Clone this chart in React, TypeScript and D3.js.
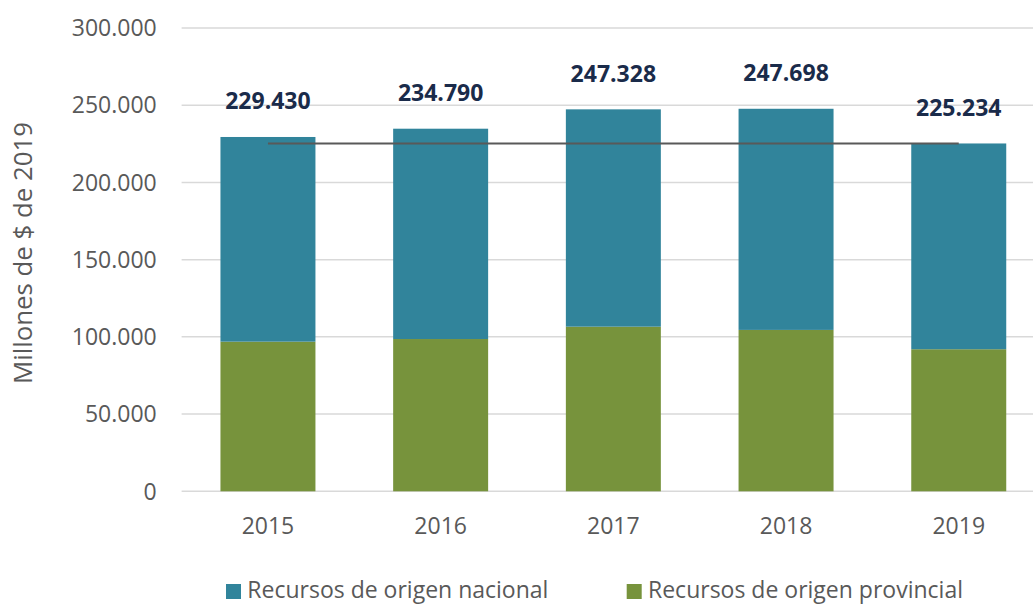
import React from "react";
import * as d3 from "d3";

const years = ["2015", "2016", "2017", "2018", "2019"];
const totals = [229430, 234790, 247328, 247698, 225234];
const provincial = [96900, 98600, 106600, 104500, 92000];
const nacional = totals.map((t, i) => t - provincial[i]);
const yTicks = [0, 50000, 100000, 150000, 200000, 250000, 300000];
const seriesNames = ["Recursos de origen nacional", "Recursos de origen provincial"];
const refValue = totals[totals.length - 1];

const W = 1033;
const H = 604;
const COLOR_NAC = "#31849B";
const COLOR_PROV = "#77933C";
const FONT = "'Open Sans', 'Noto Sans', sans-serif";

const locale = d3.formatLocale({ decimal: ",", thousands: ".", grouping: [3], currency: ["$", ""] });
const fmt = locale.format(",d");

export default function App() {
  const x = d3.scaleBand<string>().domain(years).range([181.6, 1045.1]).paddingInner(0.45).paddingOuter(0.225);
  const y = d3.scaleLinear().domain([0, 300000]).range([491.3, 28]);
  const bw = x.bandwidth();
  const cx = (yr: string) => (x(yr) as number) + bw / 2;

  return (
    <svg width={W} height={H} style={{ position: "absolute", left: 0, top: 0, background: "#fff" }} fontFamily={FONT}>
      {yTicks.map((t) => (
        <g key={t}>
          <line x1={181.6} x2={W} y1={y(t)} y2={y(t)} stroke="#D9D9D9" strokeWidth={1.5} />
          <text x={156.7} y={y(t)} dy="0.36em" textAnchor="end" fontSize={23} fill="#595959">
            {fmt(t)}
          </text>
        </g>
      ))}
      <text transform={`translate(32,253) rotate(-90)`} textAnchor="middle" fontSize={25.8} fill="#595959">
        Millones de $ de 2019
      </text>
      {years.map((yr, i) => (
        <g key={yr}>
          <rect x={x(yr)} y={y(provincial[i])} width={bw} height={y(0) - y(provincial[i])} fill={COLOR_PROV} />
          <rect x={x(yr)} y={y(totals[i])} width={bw} height={y(totals[i]) < y(provincial[i]) ? y(provincial[i]) - y(totals[i]) : 0} fill={COLOR_NAC} />
          <text x={cx(yr)} y={y(totals[i]) - 27.5} textAnchor="middle" fontSize={23} fontWeight="bold" fill="#1A2B4A">
            {fmt(totals[i])}
          </text>
          <text x={cx(yr)} y={534} textAnchor="middle" fontSize={23} fill="#595959">
            {yr}
          </text>
        </g>
      ))}
      <line
        x1={cx(years[0])}
        x2={cx(years[years.length - 1])}
        y1={y(refValue)}
        y2={y(refValue)}
        stroke="#595959"
        strokeWidth={2}
      />
      {seriesNames.map((name, i) => {
        const lx = i === 0 ? 226 : 626.7;
        return (
          <g key={name}>
            <rect x={lx} y={584} width={15} height={15} fill={i === 0 ? COLOR_NAC : COLOR_PROV} />
            <text x={lx + 21.3} y={598} fontSize={23} fill="#595959">
              {name}
            </text>
          </g>
        );
      })}
    </svg>
  );
}
